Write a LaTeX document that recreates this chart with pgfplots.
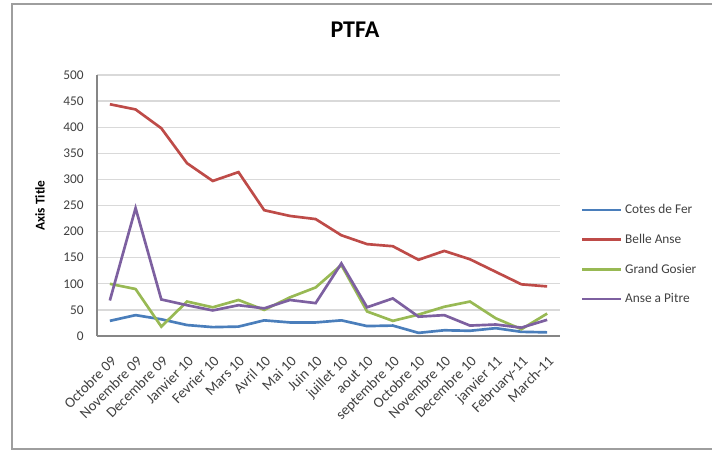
\documentclass[border=0pt]{standalone}
\usepackage{pgfplots}
\pgfplotsset{compat=1.18}
\usepackage{fontspec}
\setmainfont{Carlito}

\definecolor{cblue}{HTML}{4A7EBB}
\definecolor{cred}{HTML}{BE4B48}
\definecolor{cgreen}{HTML}{98B954}
\definecolor{cpurple}{HTML}{7D60A0}
\definecolor{gridc}{HTML}{D9D9D9}
\definecolor{axc}{HTML}{868686}
\definecolor{txt}{HTML}{404040}

\begin{document}
\begin{tikzpicture}
% 1 px of the reference = 0.75pt
\useasboundingbox (0pt,0pt) rectangle (534pt,338.25pt);
\draw[axc!80, line width=0.8pt] (9pt,1.5pt) rectangle (545pt,335.25pt);
\begin{axis}[
    at={(72.75pt,86.25pt)}, anchor=south west,
    scale only axis,
    width=347.25pt, height=195.75pt,
    xmin=-0.5, xmax=17.5,
    ymin=0, ymax=500,
    ytick={0,50,...,500},
    xtick={0,...,17},
    xticklabels={Octobre 09,Novembre 09,Decembre 09,Janvier 10,Fevrier 10,Mars 10,Avril 10,Mai 10,Juin 10,juillet 10,aout 10,septembre 10,Octobre 10,Novembre 10,Decembre 10,janvier 11,February-11,March-11},
    x tick label style={rotate=45, anchor=north east, inner sep=1pt, yshift=-9pt, xshift=-9pt,
      font=\fontsize{11}{13}\selectfont, text=txt},
    y tick label style={font=\fontsize{10}{12}\selectfont, text=txt, xshift=-6.5pt},
    /pgf/number format/assume math mode=true,
    ymajorgrids,
    grid style={gridc, line width=1pt},
    axis x line*=bottom, axis y line*=left,
    axis line style={axc, line width=0.8pt},
    x axis line style={-}, y axis line style={-},
    tick style={draw=none},
    ylabel={Axis Title},
    ylabel style={font=\fontsize{10}{12}\selectfont\bfseries, at={(rel axis cs:-0.123,0.5)}, anchor=center},
    title={PTFA},
    title style={font=\fontsize{18}{20}\selectfont\bfseries, at={(rel axis cs:0.557,1.142)}, anchor=center},
    legend style={at={(rel axis cs:1.045,0.312)}, anchor=west, draw=none, fill=none,
      font=\fontsize{10}{12}\selectfont, text=txt, row sep=9.8pt, inner sep=0pt},
    legend cell align=left,
    legend image code/.code={\draw[#1] (0,0) -- (29pt,0);},
    every axis plot/.append style={line width=2pt, mark=none},
    clip=false,
]
\addplot[cblue] coordinates {(0,29)(1,40)(2,32)(3,21)(4,17)(5,18)(6,30)(7,26)(8,26)(9,30)(10,19)(11,20)(12,6)(13,11)(14,10)(15,15)(16,8)(17,7)};
\addlegendentry{Cotes de Fer}
\addplot[cred] coordinates {(0,444)(1,434)(2,398)(3,331)(4,297)(5,314)(6,241)(7,230)(8,224)(9,193)(10,176)(11,172)(12,146)(13,163)(14,147)(15,123)(16,99)(17,95)};
\addlegendentry{Belle Anse}
\addplot[cgreen] coordinates {(0,100)(1,90)(2,18)(3,66)(4,55)(5,69)(6,50)(7,74)(8,93)(9,136)(10,47)(11,29)(12,41)(13,56)(14,66)(15,34)(16,13)(17,43)};
\addlegendentry{Grand Gosier}
\addplot[cpurple] coordinates {(0,68)(1,245)(2,70)(3,59)(4,49)(5,59)(6,53)(7,69)(8,63)(9,139)(10,55)(11,72)(12,37)(13,40)(14,20)(15,22)(16,16)(17,31)};
\addlegendentry{Anse a Pitre}
\end{axis}
\end{tikzpicture}
\end{document}
